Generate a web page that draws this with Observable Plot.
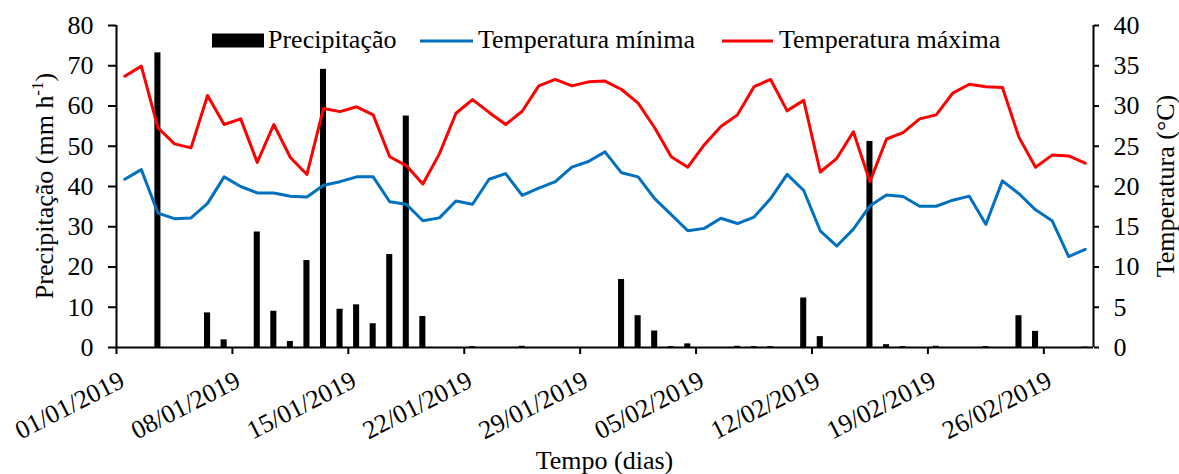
<!DOCTYPE html>
<html>
<head>
<meta charset="utf-8">
<script src="https://cdn.jsdelivr.net/npm/d3@7"></script>
<script src="https://cdn.jsdelivr.net/npm/@observablehq/plot@0.6"></script>
<style>
  html, body { margin: 0; padding: 0; background: #fff; }
  #chart svg { display: block; }
</style>
</head>
<body>
<div id="chart"></div>
<script>
// ---- Data ----
const startDate = "2019-01-01";
const endDate = "2019-03-01";

// Daily precipitation (mm h-1), 01/01/2019 .. 28/02/2019
const precipitacao = [
  0, 0, 73.2, 0, 0, 8.6, 1.9, 0, 28.7, 9.0,
  1.5, 21.6, 69.1, 9.5, 10.6, 5.9, 23.1, 57.5, 7.7, 0,
  0, 0.2, 0, 0, 0.3, 0, 0, 0, 0, 0,
  16.9, 7.9, 4.1, 0.2, 0.9, 0, 0, 0.3, 0.2, 0.2,
  0, 12.3, 2.7, 0, 0, 51.2, 0.7, 0.2, 0, 0.3,
  0, 0, 0.2, 0, 7.9, 4.0, 0, 0, 0.1
];

// Minimum temperature (°C)
const tempMinima = [
  20.9, 22.1, 16.7, 16.0, 16.1, 17.9, 21.2, 20.0, 19.2, 19.2,
  18.8, 18.7, 20.15, 20.6, 21.2, 21.2, 18.1, 17.8, 15.75, 16.1,
  18.2, 17.8, 20.9, 21.6, 18.9, 19.8, 20.6, 22.4, 23.1, 24.3,
  21.7, 21.2, 18.5, 16.5, 14.5, 14.8, 16.05, 15.4, 16.2, 18.5,
  21.5, 19.5, 14.5, 12.6, 14.7, 17.6, 18.95, 18.75, 17.55, 17.55,
  18.3, 18.8, 15.3, 20.7, 19.1, 17.1, 15.75, 11.3, 12.2
];

// Maximum temperature (°C)
const tempMaxima = [
  33.7, 34.95, 27.3, 25.3, 24.8, 31.3, 27.7, 28.4, 23.0, 27.7,
  23.6, 21.5, 29.7, 29.3, 29.9, 28.9, 23.7, 22.6, 20.3, 24.05,
  29.1, 30.8, 29.2, 27.7, 29.35, 32.5, 33.3, 32.5, 33.0, 33.1,
  32.05, 30.35, 27.3, 23.7, 22.4, 25.2, 27.45, 28.9, 32.4, 33.3,
  29.4, 30.7, 21.8, 23.5, 26.8, 20.6, 25.9, 26.7, 28.4, 28.9,
  31.6, 32.7, 32.4, 32.3, 26.1, 22.4, 23.9, 23.8, 22.9
];

const xTickLabels = ["2019-01-01", "2019-01-08", "2019-01-15", "2019-01-22", "2019-01-29",
                     "2019-02-05", "2019-02-12", "2019-02-19", "2019-02-26"];
const leftTicks = [0, 10, 20, 30, 40, 50, 60, 70, 80];
const rightTicks = [0, 5, 10, 15, 20, 25, 30, 35, 40];

const seriesNames = ["Precipitação", "Temperatura mínima", "Temperatura máxima"];
const seriesColors = ["#000000", "#0070C0", "#FF0000"];

// ---- Build table ----
const t0 = new Date(startDate + "T00:00:00Z");
const t1 = new Date(endDate + "T00:00:00Z");
const days = d3.utcDay.range(t0, t1);
const data = days.map((d, i) => ({
  date: d,
  next: d3.utcDay.offset(d, 1),
  mid: d3.utcHour.offset(d, 12),
  precip: precipitacao[i],
  tmin: tempMinima[i],
  tmax: tempMaxima[i]
}));
const tickDates = xTickLabels.map(s => new Date(s + "T00:00:00Z"));
const scaleT = 80 / 40; // temperature axis 0–40 mapped onto precipitation axis 0–80
const fmt = d3.utcFormat("%d/%m/%Y");
const FONT = "Liberation Serif, Times New Roman, serif";

const W = 1179, H = 474;
const mL = 116, mR = 86, mT = 25, mB = 127;

const plot = Plot.plot({
  width: W,
  height: H,
  marginLeft: mL,
  marginRight: mR,
  marginTop: mT,
  marginBottom: mB,
  style: { fontFamily: FONT, fontSize: "26px", color: "#000", background: "#fff", overflow: "visible" },
  x: { type: "utc", domain: [t0, t1] },
  y: { domain: [0, 80] },
  marks: [
    Plot.rect(data, {
      x1: "date", x2: "next", y1: () => 0, y2: "precip",
      fill: seriesColors[0], insetLeft: 5.25, insetRight: 5.25
    }),
    Plot.line(data, { x: "mid", y: d => d.tmin * scaleT, stroke: seriesColors[1], strokeWidth: 3, strokeLinejoin: "round" }),
    Plot.line(data, { x: "mid", y: d => d.tmax * scaleT, stroke: seriesColors[2], strokeWidth: 3, strokeLinejoin: "round" }),
    Plot.axisY({
      anchor: "left", ticks: leftTicks, tickSize: 8, tickPadding: 15,
      label: null, fontSize: 26, strokeWidth: 2
    }),
    Plot.axisY({
      anchor: "right", ticks: rightTicks.map(v => v * scaleT), tickFormat: d => d / scaleT,
      tickSize: 5, tickPadding: 15, label: null, fontSize: 26, strokeWidth: 2
    }),
    Plot.axisX({
      ticks: tickDates, tickSize: 7, label: null, strokeWidth: 2, text: null
    }),
    Plot.axisX({
      ticks: tickDates, tickFormat: fmt, tickRotate: -27, tickSize: 0, tickPadding: 13,
      label: null, fontSize: 26, dx: 6, dy: 18
    }),
    Plot.ruleX([t0], { stroke: "#000", strokeWidth: 2 }),
    Plot.ruleX([t1], { stroke: "#000", strokeWidth: 2 }),
    Plot.ruleY([0], { stroke: "#000", strokeWidth: 2 })
  ]
});

document.getElementById("chart").appendChild(plot);

// ---- Axis titles and legend ----
const svg = d3.select(plot);
const g = svg.append("g").attr("font-family", FONT).attr("font-size", 26).attr("fill", "#000");
const cy = (mT + (H - mB)) / 2;

const lt = g.append("text")
  .attr("transform", `translate(53,${cy}) rotate(-90)`)
  .attr("text-anchor", "middle");
lt.append("tspan").text("Precipitação (mm h");
lt.append("tspan").attr("font-size", 17).attr("dy", -10).text("-1");
lt.append("tspan").attr("dy", 10).text(")");

g.append("text")
  .attr("transform", `translate(1174,${cy}) rotate(-90)`)
  .attr("text-anchor", "middle")
  .text("Temperatura (°C)");

g.append("text")
  .attr("x", (mL + (W - mR)) / 2)
  .attr("y", 469)
  .attr("text-anchor", "middle")
  .text("Tempo (dias)");

// Legend
const leg = svg.append("g").attr("font-family", FONT).attr("font-size", 26)
  .attr("fill", "#000").attr("text-anchor", "start");
leg.append("rect").attr("x", 212).attr("y", 33.5).attr("width", 52).attr("height", 14).attr("fill", seriesColors[0]);
leg.append("text").attr("x", 268).attr("y", 48).text(seriesNames[0]);
leg.append("line").attr("x1", 420).attr("x2", 473).attr("y1", 41).attr("y2", 41)
  .attr("stroke", seriesColors[1]).attr("stroke-width", 3);
leg.append("text").attr("x", 478).attr("y", 48).text(seriesNames[1]);
leg.append("line").attr("x1", 722).attr("x2", 773).attr("y1", 41).attr("y2", 41)
  .attr("stroke", seriesColors[2]).attr("stroke-width", 3);
leg.append("text").attr("x", 779).attr("y", 48).text(seriesNames[2]);
</script>
</body>
</html>
